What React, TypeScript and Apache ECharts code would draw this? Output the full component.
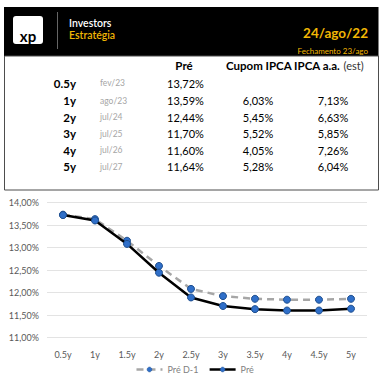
import React, { useEffect, useRef } from "react";
import * as echarts from "echarts";

// ---- Table data ----
const tenors = ["0.5y", "1y", "2y", "3y", "4y", "5y"];
const maturities = ["fev/23", "ago/23", "jul/24", "jul/25", "jul/26", "jul/27"];
const preTable = [13.72, 13.59, 12.44, 11.7, 11.6, 11.64];
const cupomIpca: (number | null)[] = [null, 6.03, 5.45, 5.52, 4.05, 5.28];
const ipcaAa: (number | null)[] = [null, 7.13, 6.63, 5.85, 7.26, 6.04];

// ---- Chart data ----
const chartCategories = ["0.5y", "1y", "1.5y", "2y", "2.5y", "3y", "3.5y", "4y", "4.5y", "5y"];
const preD1 = [13.73, 13.63, 13.15, 12.59, 12.08, 11.92, 11.86, 11.84, 11.84, 11.86];
const pre = [13.72, 13.6, 13.08, 12.44, 11.89, 11.7, 11.63, 11.6, 11.6, 11.64];

const headerTitle = "Investors";
const headerSub = "Estratégia";
const headerDate = "24/ago/22";
const headerClose = "Fechamento 23/ago";

const FONT = "Lato, 'Noto Sans', sans-serif";
const GOLD = "#f2b705";

const fmt = (v: number) => v.toFixed(2).replace(".", ",") + "%";

function txt(text: string, x: number, y: number, opts: any = {}) {
  const align = opts.align || "left";
  return {
    type: "text",
    x,
    y,
    silent: true,
    style: {
      text,
      x: 0,
      y: 0,
      fill: opts.fill || "#000",
      fontSize: opts.fontSize || 11,
      fontWeight: opts.fontWeight || "normal",
      fontFamily: FONT,
      align,
      verticalAlign: "middle",
      textAlign: align,
      textVerticalAlign: "middle",
    },
  };
}

export default function App() {
  const ref = useRef<HTMLDivElement>(null);
  useEffect(() => {
    if (!ref.current) return;
    const chart = echarts.init(ref.current, null, { renderer: "svg" });

    const rowY = [83.3, 100.5, 117, 133.5, 150, 166.8];
    const graphics: any[] = [
      // header black bar
      { type: "rect", silent: true, shape: { x: 4, y: 7, width: 374.5, height: 49 }, style: { fill: "#000" } },
      // table box
      { type: "rect", silent: true, shape: { x: 4.5, y: 56, width: 374, height: 134 }, style: { fill: "none", stroke: "#4d4d4d", lineWidth: 1 } },
      // logo
      { type: "rect", silent: true, shape: { x: 13, y: 16, width: 30, height: 28, r: 3 }, style: { fill: "#fff" } },
      txt("xp", 28, 36, { align: "center", fontSize: 15, fontWeight: "bold", fill: "#000" }),
      { type: "line", silent: true, shape: { x1: 57.5, y1: 12, x2: 57.5, y2: 49 }, style: { stroke: "#666", lineWidth: 1 } },
      txt(headerTitle, 69, 23, { fill: "#fff", fontSize: 10.5, fontWeight: 600 }),
      txt(headerSub, 69, 34.5, { fill: GOLD, fontSize: 10.5, fontWeight: 600 }),
      txt(headerDate, 368, 33, { align: "right", fill: GOLD, fontSize: 13.5, fontWeight: "bold" }),
      txt(headerClose, 368, 51, { align: "right", fill: GOLD, fontSize: 8 }),
      // table header
      txt("Pré", 184, 65.7, { align: "center", fontWeight: "bold", fontSize: 11.5 }),
      {
        type: "text",
        x: 226,
        y: 65.7,
        silent: true,
        style: {
          text: "{b|Cupom IPCA IPCA a.a.} {n|(est)}",
          fontFamily: FONT,
          verticalAlign: "middle",
          textVerticalAlign: "middle",
          rich: {
            b: { fontWeight: "bold", fontSize: 11.5, fill: "#000", fontFamily: FONT },
            n: { fontSize: 11, fill: "#333", fontFamily: FONT },
          },
        },
      },
    ];
    tenors.forEach((t, i) => {
      const y = rowY[i];
      graphics.push(txt(t, 76, y, { align: "right", fontWeight: "bold", fontSize: 11.5 }));
      graphics.push(txt(maturities[i], 100, y, { fill: "#a6a6a6", fontSize: 8.5 }));
      graphics.push(txt(fmt(preTable[i]), 167, y, { fontSize: 11 }));
      const c = cupomIpca[i];
      if (c != null) graphics.push(txt(fmt(c), 258, y, { align: "center", fontSize: 11 }));
      const p = ipcaAa[i];
      if (p != null) graphics.push(txt(fmt(p), 333, y, { align: "center", fontSize: 11 }));
    });

    const markerStyle = { color: "#2f6fc9", borderColor: "#1f4f8f", borderWidth: 1 };

    chart.setOption({
      animation: false,
      backgroundColor: "#fff",
      graphic: graphics,
      grid: { left: 47, right: 22, top: 202.5, bottom: 47.5, containLabel: false },
      legend: {
        bottom: 6,
        left: "center",
        itemWidth: 26,
        itemHeight: 6,
        itemGap: 10,
        itemStyle: { borderWidth: 0.5 },
        lineStyle: { width: 2.5 },
        textStyle: { color: "#7f7f7f", fontSize: 9, fontFamily: FONT },
        data: ["Pré D-1", "Pré"],
      },
      xAxis: {
        type: "category",
        data: chartCategories,
        boundaryGap: true,
        axisLine: { show: false },
        axisTick: { show: false },
        axisLabel: { color: "#595959", fontSize: 9, fontFamily: FONT, margin: 12 },
      },
      yAxis: {
        type: "value",
        min: 11,
        max: 14,
        interval: 0.5,
        axisLine: { show: false },
        axisTick: { show: false },
        axisLabel: { color: "#595959", fontSize: 9, fontFamily: FONT, margin: 8, formatter: (v: number) => fmt(v) },
        splitLine: { lineStyle: { color: "#e3e3e3", width: 1 } },
      },
      series: [
        {
          name: "Pré D-1",
          type: "line",
          data: preD1,
          symbol: "circle",
          symbolSize: 7,
          lineStyle: { color: "#a6a6a6", width: 2.5, type: [7, 5] },
          itemStyle: markerStyle,
          z: 2,
        },
        {
          name: "Pré",
          type: "line",
          data: pre,
          symbol: "circle",
          symbolSize: 7,
          lineStyle: { color: "#000", width: 2.5 },
          itemStyle: markerStyle,
          z: 3,
        },
      ],
    });
    return () => chart.dispose();
  }, []);
  return (
    <div
      ref={ref}
      style={{ position: "fixed", left: 0, top: 0, width: 389, height: 385, background: "#fff" }}
    />
  );
}
